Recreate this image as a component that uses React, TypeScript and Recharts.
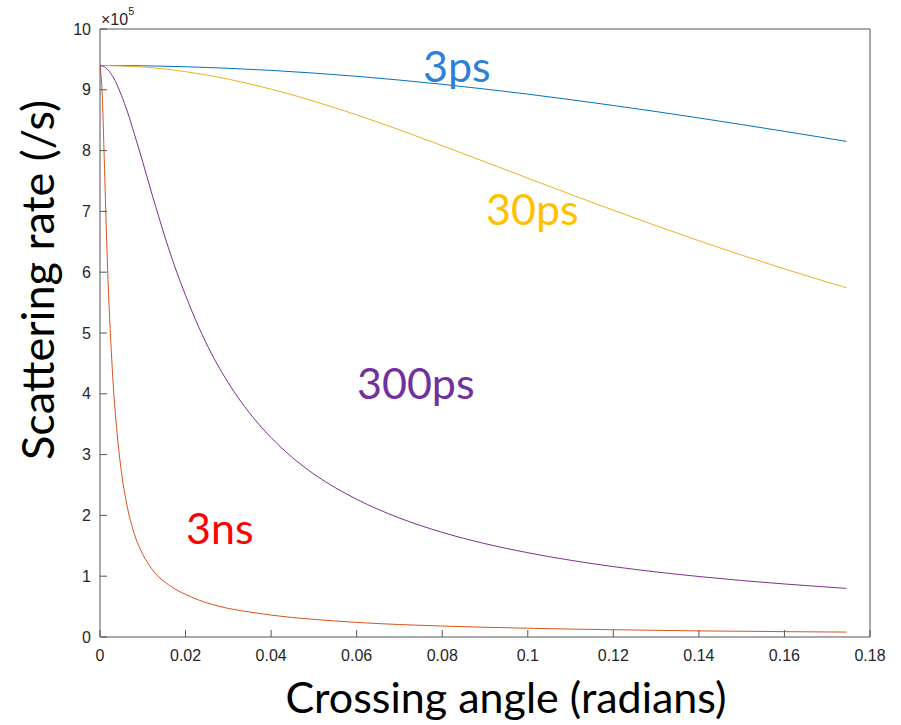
import { LineChart, Line, XAxis, YAxis } from "recharts";

// crossing angle (radians) — dense near zero for the fast-falling curves
const angleFine = [
  0, 0.0005, 0.001, 0.0015, 0.002, 0.0025, 0.003, 0.004, 0.005, 0.0065, 0.008,
  0.01, 0.012, 0.014, 0.016, 0.018, 0.02, 0.023, 0.026, 0.03, 0.035, 0.04,
  0.045, 0.05, 0.06, 0.07, 0.08, 0.09, 0.1, 0.11, 0.12, 0.13, 0.14, 0.15, 0.16,
  0.17, 0.1745,
];
const angleCoarse = [
  0, 0.01, 0.02, 0.03, 0.04, 0.05, 0.06, 0.07, 0.08, 0.09, 0.1, 0.11, 0.12,
  0.13, 0.14, 0.15, 0.16, 0.17, 0.1745,
];

// scattering rate, in units of 1e5 /s
const rate3ns = [
  9.4, 8.95, 7.85, 6.65, 5.65, 4.9, 4.25, 3.35, 2.72, 2.1, 1.7, 1.36, 1.13,
  0.97, 0.86, 0.77, 0.7, 0.61, 0.54, 0.47, 0.41, 0.36, 0.32, 0.29, 0.24, 0.205,
  0.18, 0.16, 0.145, 0.13, 0.12, 0.11, 0.1, 0.095, 0.088, 0.083, 0.081,
];
const rate300ps = [
  9.4, 9.39, 9.38, 9.35, 9.32, 9.27, 9.22, 9.08, 8.91, 8.62, 8.28, 7.81, 7.32,
  6.85, 6.4, 5.99, 5.62, 5.11, 4.67, 4.18, 3.68, 3.28, 2.95, 2.68, 2.265, 1.957,
  1.721, 1.535, 1.386, 1.262, 1.158, 1.07, 0.995, 0.929, 0.872, 0.821, 0.8,
];
const rate30ps = [
  9.4, 9.374, 9.298, 9.175, 9.011, 8.812, 8.588, 8.341, 8.082, 7.815, 7.547,
  7.281, 7.019, 6.765, 6.518, 6.281, 6.054, 5.838, 5.743,
];
const rate3ps = [
  9.4, 9.395, 9.38, 9.354, 9.319, 9.275, 9.222, 9.16, 9.09, 9.012, 8.929,
  8.838, 8.742, 8.642, 8.537, 8.428, 8.317, 8.203, 8.151,
];

const xTicks = [0, 0.02, 0.04, 0.06, 0.08, 0.1, 0.12, 0.14, 0.16, 0.18];
const yTicks = [0, 1, 2, 3, 4, 5, 6, 7, 8, 9, 10];

const toRows = (xs: number[], ys: number[]) =>
  xs.map((x, i) => ({ angle: x, rate: ys[i] }));

const series = [
  { key: "3ps", color: "#0072BD", rows: toRows(angleCoarse, rate3ps) },
  { key: "3ns", color: "#D95319", rows: toRows(angleFine, rate3ns) },
  { key: "30ps", color: "#EDB120", rows: toRows(angleCoarse, rate30ps) },
  { key: "300ps", color: "#7E2F8E", rows: toRows(angleFine, rate300ps) },
];

const AXIS = "#555555";
const tickFont = {
  fill: "#262626",
  fontSize: 16,
  fontFamily: "'Liberation Sans', Arial, sans-serif",
};
const titleFont = "Lato, 'Open Sans', sans-serif";

export default function App() {
  return (
    <div style={{ position: "absolute", left: 0, top: 0, width: 901, height: 725, background: "#fff" }}>
      <LineChart
        width={901}
        height={725}
        margin={{ top: 19, right: 21, bottom: 58, left: 40 }}
      >
        <XAxis
          xAxisId="bottom"
          dataKey="angle"
          type="number"
          domain={[0, 0.18]}
          ticks={xTicks}
          allowDataOverflow
          height={30}
          stroke={AXIS}
          tickSize={-7}
          tickMargin={20}
          tick={tickFont}
        />
        <XAxis
          xAxisId="top"
          orientation="top"
          dataKey="angle"
          type="number"
          domain={[0, 0.18]}
          ticks={xTicks}
          height={10}
          stroke={AXIS}
          tickSize={-7}
          tickFormatter={() => ""}
        />
        <YAxis
          yAxisId="left"
          type="number"
          domain={[0, 10]}
          ticks={yTicks}
          width={60}
          stroke={AXIS}
          tickSize={-7}
          tickMargin={16}
          tick={tickFont}
        />
        <YAxis
          yAxisId="right"
          orientation="right"
          type="number"
          domain={[0, 10]}
          ticks={yTicks}
          width={10}
          stroke={AXIS}
          tickSize={-7}
          tickFormatter={() => ""}
        />
        {series.map((s) => (
          <Line
            key={s.key}
            xAxisId="bottom"
            yAxisId="left"
            data={s.rows}
            dataKey="rate"
            type="monotone"
            stroke={s.color}
            strokeWidth={1}
            dot={false}
            activeDot={false}
            isAnimationActive={false}
          />
        ))}
      </LineChart>

      <svg
        width={901}
        height={725}
        style={{ position: "absolute", left: 0, top: 0, pointerEvents: "none" }}
      >
        <text x={101} y={25} fontSize={16} fill="#262626" fontFamily="'Liberation Sans', Arial, sans-serif">
          ×10<tspan dy={-10} fontSize={11}>5</tspan>
        </text>

        <text x={423} y={82} fontSize={43} fill="#2E7FD8" fontFamily={titleFont}>3ps</text>
        <text x={486} y={225} fontSize={43} fill="#FFC000" fontFamily={titleFont}>30ps</text>
        <text x={357} y={399} fontSize={43} fill="#7030A0" fontFamily={titleFont}>300ps</text>
        <text x={186} y={544} fontSize={43} fill="#FF0000" fontFamily={titleFont}>3ns</text>

        <text x={506} y={713} fontSize={43} textAnchor="middle" fill="#000" fontFamily={titleFont}>
          Crossing angle (radians)
        </text>
        <text
          x={54}
          y={280}
          fontSize={45}
          textAnchor="middle"
          fill="#000"
          fontFamily={titleFont}
          transform="rotate(-90 54 280)"
        >
          Scattering rate (/s)
        </text>
      </svg>
    </div>
  );
}
